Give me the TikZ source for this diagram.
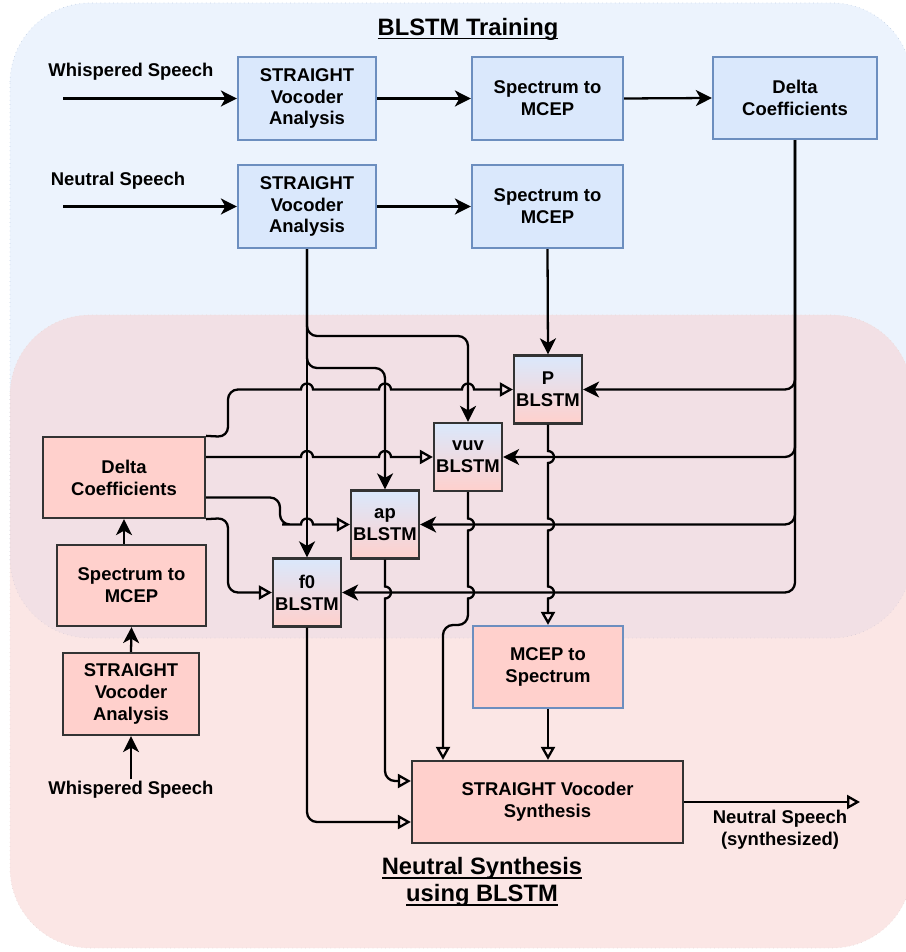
\documentclass[tikz,border=0pt]{standalone}
\usepackage{fontspec}
\setmainfont{Liberation Sans}
\usepackage{tikz}
\usetikzlibrary{arrows.meta, calc}
\definecolor{blueFill}{HTML}{DAE8FC}
\definecolor{blueLine}{HTML}{6C8EBF}
\definecolor{redFill}{HTML}{FFD0CC}
\definecolor{redArea}{HTML}{F8CECC}
\definecolor{darkLine}{HTML}{333333}
\newsavebox{\ulbox}
\newcommand{\ulin}[1]{\sbox{\ulbox}{#1}\rlap{\rule[-2.4pt]{\wd\ulbox}{1pt}}\usebox{\ulbox}}
\newcommand{\boxfont}{\bfseries\fontsize{10.5}{12.5}\selectfont}
\newcommand{\hop}[2]{-- ({#1-6},#2) arc[start angle=180,end angle=0,radius=0.12cm]}
\newcommand{\vhop}[2]{-- (#1,{#2-6}) arc[start angle=90,end angle=-90,radius=0.12cm]}
\tikzset{
    block/.style={
        rectangle,
        draw=blueLine,
        fill=blueFill,
        line width=1.3pt,
        align=center,
        font=\boxfont,
        minimum height=1.66cm,
    },
    redblock/.style={
        block,
        draw=darkLine,
        fill=redFill,
    },
    blstm/.style={
        rectangle,
        draw=darkLine,
        line width=1.3pt,
        top color=blueFill,
        bottom color=redFill,
        align=center,
        font=\boxfont,
        inner sep=0pt,
        minimum width=1.36cm,
        minimum height=1.36cm,
    },
    speech/.style={
        align=center,
        font=\boxfont,
        inner sep=1pt,
    },
    heading/.style={
        align=center,
        font=\bfseries\fontsize{13.5}{15.5}\selectfont,
    },
    arr/.style={-{Stealth[length=0.32cm,width=0.32cm,inset=0.09cm]}, line width=1.3pt},
    oarr/.style={-{Triangle[open,length=0.26cm,width=0.28cm]}, line width=1.3pt},
}

\begin{document}
\begin{tikzpicture}[x=0.02cm, y=-0.02cm]
      \useasboundingbox (0,0) rectangle (905,952);

      \path[fill=blueFill, fill opacity=0.5, draw=blueLine!40, dotted, line width=0.4pt, rounded corners=1.6cm] (10,3) rectangle (912,638);
      \path[fill=redArea, fill opacity=0.5, draw=redArea!80!black!40, dotted, line width=0.4pt, rounded corners=1.6cm] (10,315) rectangle (912,948);

      \node[heading] (ttrain) at (468,29) {\ulin{BLSTM Training}};
      \node[heading] (tsynth) at (482,882) {\ulin{Neutral Synthesis}\\\ulin{using BLSTM}};

      \node[block, minimum width=2.76cm] (wsa) at (307,98.5) {STRAIGHT\\Vocoder\\Analysis};
      \node[block, minimum width=3.02cm] (sm1) at (547.5,98.5) {Spectrum to\\MCEP};
      \node[block, minimum width=3.28cm, minimum height=1.64cm] (dtr) at (795,98) {Delta\\Coefficients};
      \node[block, minimum width=2.76cm] (nsa) at (307,206.5) {STRAIGHT\\Vocoder\\Analysis};
      \node[block, minimum width=3.02cm] (sm2) at (547.5,206.5) {Spectrum to\\MCEP};

      \node[speech] (wlab) at (131,72) {Whispered Speech};
      \node[speech] (nlab) at (118,181) {Neutral Speech};
      \coordinate (win) at (63,98.5);
      \coordinate (nin) at (63,206.5);

      \node[blstm] (pb) at (548,389.5) {P\\BLSTM};
      \node[blstm] (vb) at (468,457) {vuv\\BLSTM};
      \node[blstm] (ab) at (385,524.5) {ap\\BLSTM};
      \node[blstm] (fb) at (307,592.5) {f0\\BLSTM};

      \node[redblock, minimum width=3.24cm, minimum height=1.62cm] (dl) at (124,477.5) {Delta\\Coefficients};
      \node[redblock, minimum width=2.98cm, minimum height=1.62cm] (sm3) at (131.5,585.5) {Spectrum to\\MCEP};
      \node[redblock, minimum width=2.72cm, minimum height=1.64cm] (wsc) at (131,694) {STRAIGHT\\Vocoder\\Analysis};
      \node[speech] (wlab2) at (131,790) {Whispered Speech};

      \node[block, fill=redFill, minimum width=3cm, minimum height=1.64cm] (ms) at (548,667) {MCEP to\\Spectrum};
      \node[redblock, minimum width=5.42cm, minimum height=1.64cm] (sy) at (547.5,802) {STRAIGHT Vocoder\\Synthesis};
      \coordinate (sout) at (860,802);
      \node[speech] (olab) at (780,830) {Neutral Speech\\(synthesized)};

      \draw[arr] (win) -- (wsa.west);
      \draw[arr] (nin) -- (nsa.west);
      \draw[arr] (wsa.east) -- (sm1.west);
      \draw[arr] (sm1.east) -- (dtr.west);
      \draw[arr] (nsa.east) -- (sm2.west);
      \draw[arr] (sm2.south) -- (pb.north);

      \draw[arr] (nsa.south) -- (fb.north);
      \draw[arr, rounded corners=0.2cm] (nsa.south) -- (307,336) -| (vb.north);
      \draw[arr, rounded corners=0.2cm] (nsa.south) -- (307,368) -| (ab.north);

      \draw[arr, rounded corners=0.2cm] (dtr.south) |- (pb.east);
      \draw[arr, rounded corners=0.2cm] (dtr.south) |- (vb.east);
      \draw[arr, rounded corners=0.2cm] (dtr.south) |- (ab.east);
      \draw[arr, rounded corners=0.2cm] (dtr.south) |- (fb.east);

      \draw[arr] (wlab2.north) -- (wsc.south);
      \draw[arr] (wsc.north) -- (sm3.south);
      \draw[arr] (sm3.north -| dl.south) -- (dl.south);

      \draw[oarr] (dl.north east) {[rounded corners=0.2cm] -- (228,437) -- (228,389.5) -- (260,389.5)} \hop{307}{389.5} \hop{385}{389.5} \hop{468}{389.5} -- (pb.west);
      \draw[oarr] (dl.east |- vb.west) \hop{307}{457} \hop{385}{457} -- (vb.west);
      \draw[oarr] ([yshift=-0.4cm]dl.east) {[rounded corners=0.2cm] -- (280,497.5) -- (280,524.5) -- (292,524.5)} \hop{307}{524.5} -- (ab.west);
      \draw[oarr, rounded corners=0.2cm] (dl.south east) -- (228,518) |- (fb.west);

      \coordinate (vx) at (443,625);
      \draw[oarr] (pb.south) \vhop{548}{457} \vhop{548}{524.5} \vhop{548}{592.5} -- (ms.north);
      \draw[oarr] (vb.south) \vhop{468}{524.5} \vhop{468}{592.5} {[rounded corners=0.2cm] -- (vb.south |- vx) -- (vx) -- (vx |- sy.north)};
      \draw[oarr] (ab.south) \vhop{385}{592.5} {[rounded corners=0.2cm] |- ([yshift=0.42cm]sy.west)};
      \draw[oarr, rounded corners=0.2cm] (fb.south) |- ([yshift=-0.4cm]sy.west);
      \draw[oarr] (ms.south) -- (ms.south |- sy.north);
      \draw[oarr] (sy.east) -- (sout);
\end{tikzpicture}
\end{document}
